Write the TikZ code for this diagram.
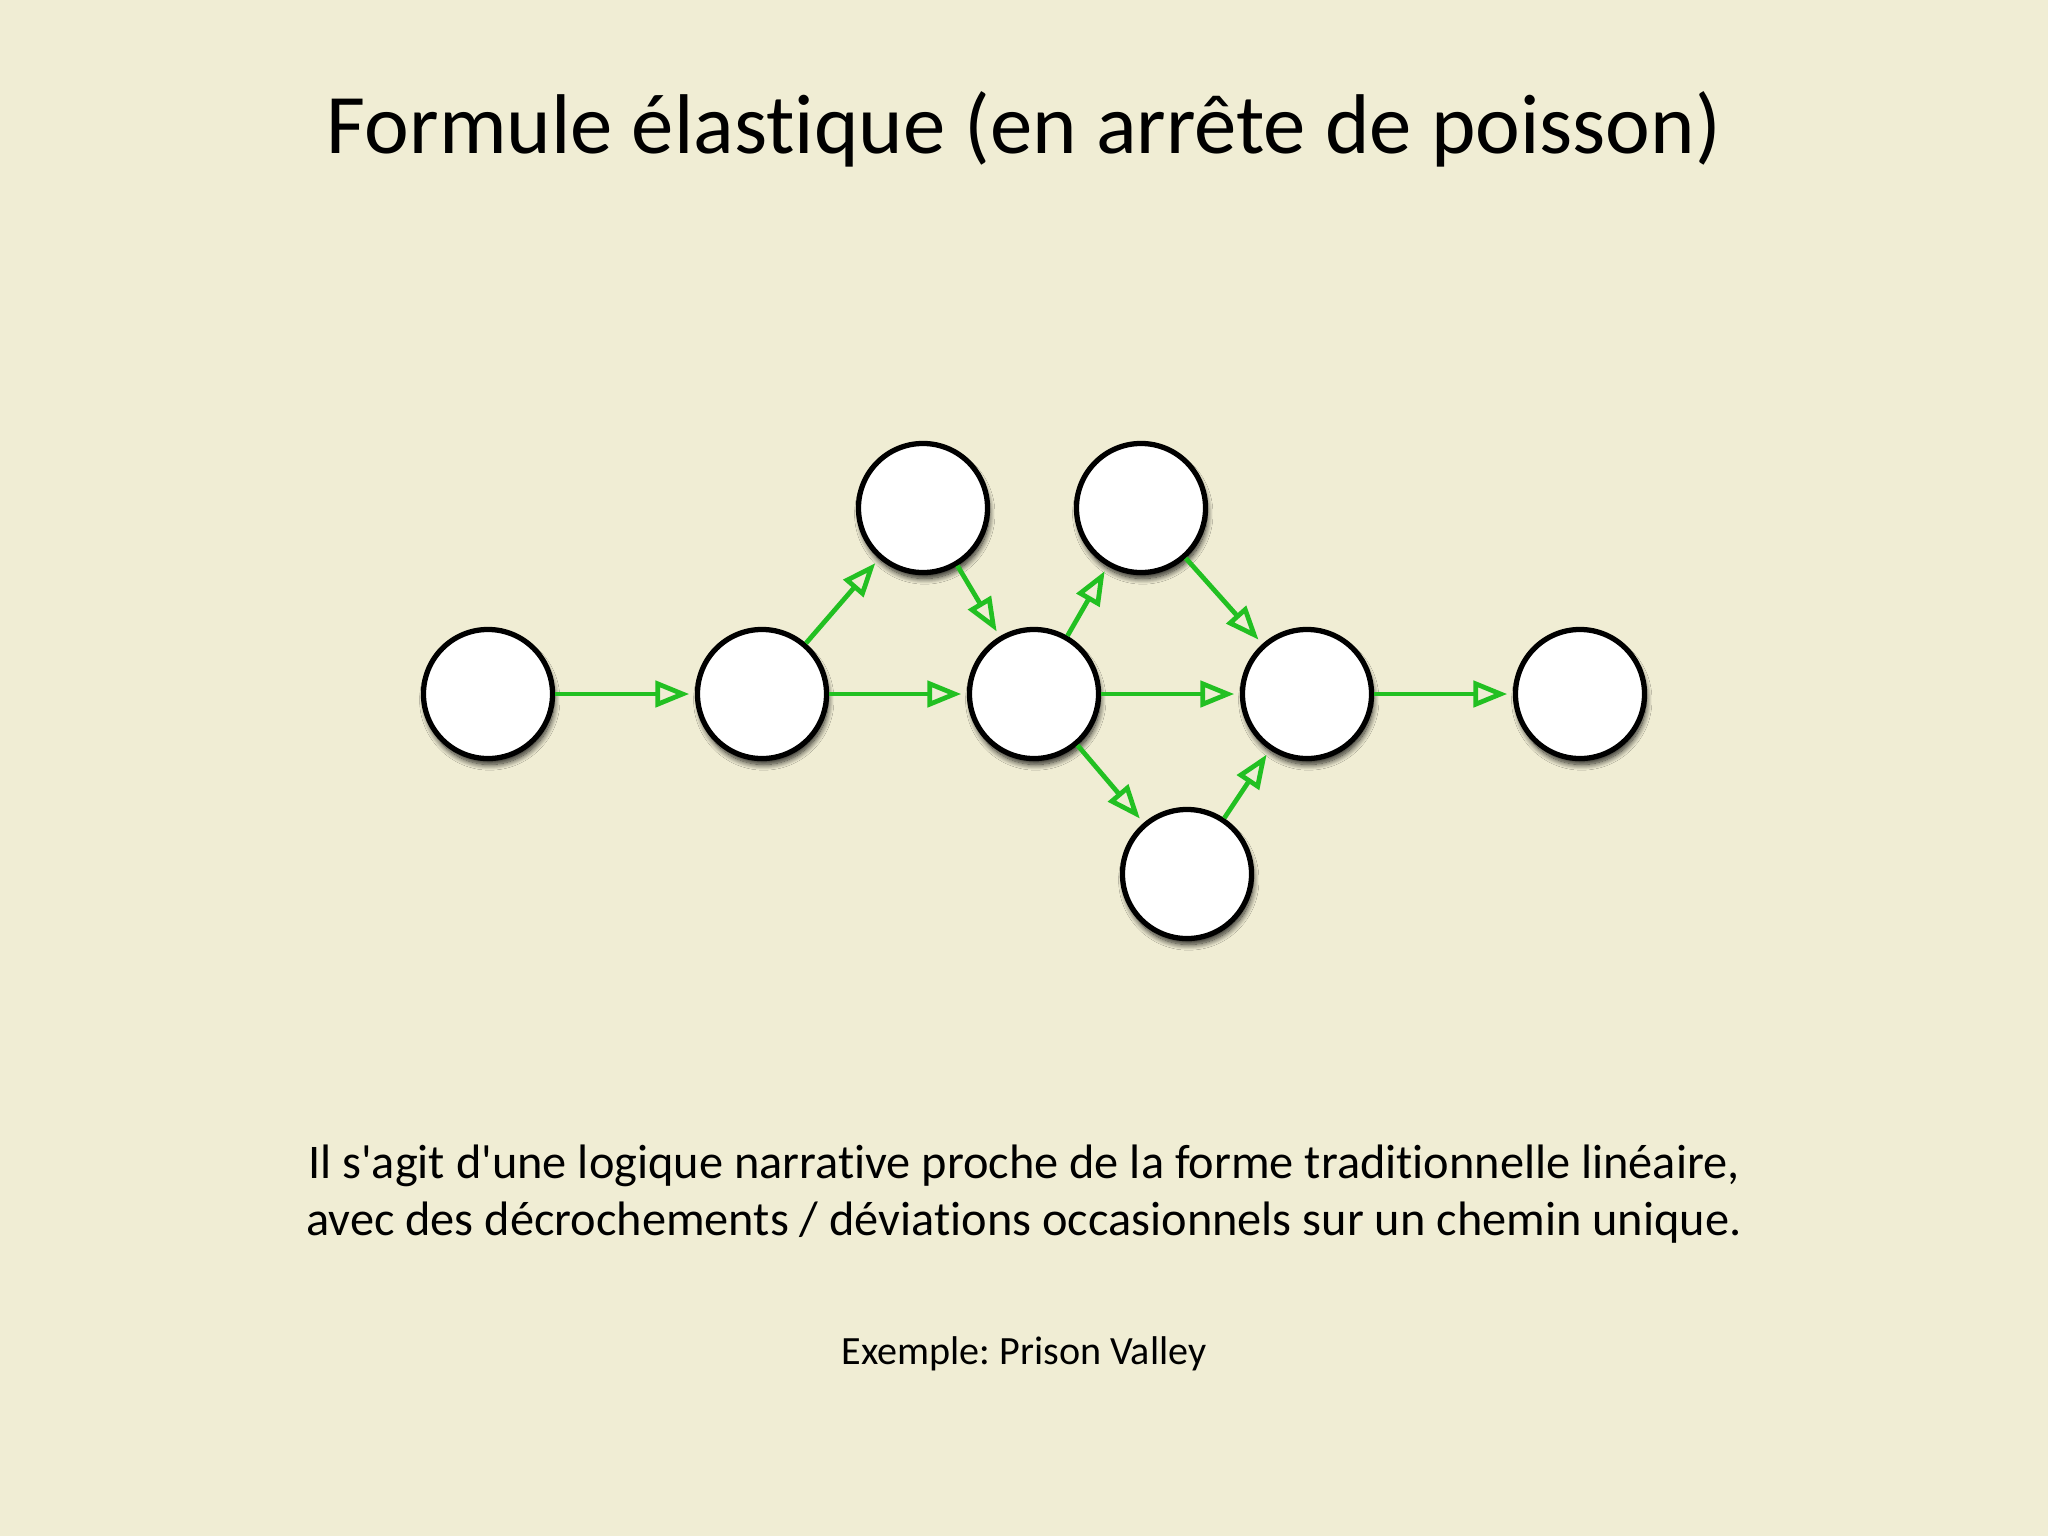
\documentclass[tikz,border=0pt]{standalone}
\usepackage{fontspec}
\newfontfamily\calibri{Carlito}[Ligatures={NoCommon}]
\usetikzlibrary{arrows.meta,shadows.blur}
\definecolor{bg}{RGB}{240,237,212}
\definecolor{arrowgreen}{RGB}{34,192,34}
\tikzset{
  statenode/.style={circle, draw=black, line width=1.5pt, fill=white,
    minimum size=1.29cm, inner sep=0pt,
    blur shadow={shadow xshift=0.5pt, shadow yshift=-1.7pt, shadow blur radius=1.6pt, shadow opacity=85, shadow blur steps=12}},
  flow/.style={draw=arrowgreen, line width=1.35pt, shorten >=1.6pt,
    -{Triangle[open, length=9.6pt, width=7.4pt, line width=1.35pt]}},
  txt/.style={font=\calibri\frenchspacing, anchor=base, inner sep=0pt},
}
\begin{document}
\begin{tikzpicture}[x=0.01cm,y=-0.01cm]
\fill[bg] (0,0) rectangle (2048,1536);
\useasboundingbox (0,0) rectangle (2048,1536);

\node[txt, font=\calibri\fontsize{24.1}{29}\selectfont] (title) at (1024,153) {Formule élastique (en arrête de poisson)};

\node[statenode] (A) at (488,694) {};
\node[statenode] (B) at (762,694) {};
\node[statenode] (C) at (1034,694) {};
\node[statenode] (D) at (1307,694) {};
\node[statenode] (E) at (1580,694) {};
\node[statenode] (T1) at (923,508) {};
\node[statenode] (T2) at (1141,508) {};
\node[statenode] (Bo) at (1187,874) {};

\draw[flow] (A) -- (B);
\draw[flow] (B) -- (C);
\draw[flow] (C) -- (D);
\draw[flow] (D) -- (E);
\draw[flow] (B) -- (T1);
\draw[flow] (T1) -- (C);
\draw[flow] (C) -- (T2);
\draw[flow] (T2) -- (D);
\draw[flow] (C) -- (Bo);
\draw[flow] (Bo) -- (D);

\node[txt, font=\calibri\frenchspacing\fontsize{13.75}{16}\selectfont] (body1) at (1024,1178) {Il s'agit d'une logique narrative proche de la forme traditionnelle linéaire,};
\node[txt, font=\calibri\frenchspacing\fontsize{13.75}{16}\selectfont] (body2) at (1024,1235) {avec des décrochements / déviations occasionnels sur un chemin unique.};
\node[txt, font=\calibri\frenchspacing\fontsize{11.4}{14}\selectfont] (example) at (1024,1364) {Exemple: Prison Valley};
\end{tikzpicture}
\end{document}
